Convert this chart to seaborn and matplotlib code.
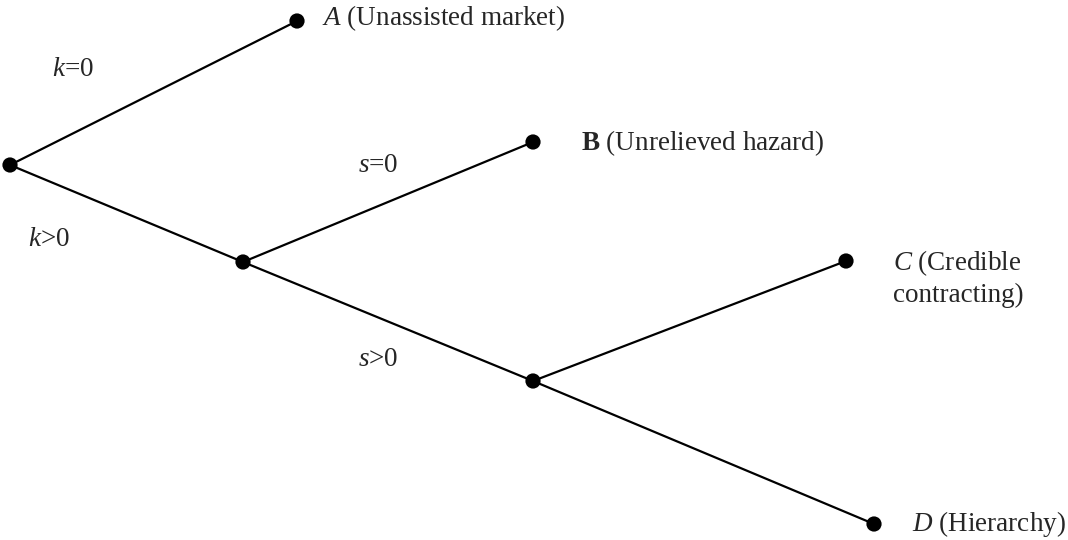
import matplotlib
matplotlib.use("Agg")
import matplotlib.pyplot as plt
import seaborn as sns
import pandas as pd

# Nodos del arbol (posicion en el diagrama)
nodos = ['raiz', 'A', 'n1', 'B', 'n2', 'C', 'D']
nodo_x = [10, 297, 243, 533, 533, 846, 874]
nodo_y = [165, 21, 262, 142, 381, 261, 524]

# Ramas
ramas = [('raiz', 'A'), ('raiz', 'n1'), ('n1', 'B'), ('n1', 'n2'), ('n2', 'C'), ('n2', 'D')]

# Etiquetas de ramas
etiquetas_rama = ['$k$=0', '$k$>0', '$s$=0', '$s$>0']
etiq_x = [52, 28, 358, 358]
etiq_y = [70, 240, 165, 360]

# Etiquetas de resultados
resultados = ['$A$ (Unassisted market)', r'$\mathbf{B}$ (Unrelieved hazard)',
              '$C$ (Credible\ncontracting)', '$D$ (Hierarchy)']
res_x = [322, 581, 893, 912]
res_y = [18, 143, 278, 524]

sns.set_style('white')
plt.rcParams['font.family'] = ['Liberation Serif', 'DejaVu Serif']
plt.rcParams['mathtext.fontset'] = 'custom'
plt.rcParams['mathtext.rm'] = 'Liberation Serif'
plt.rcParams['mathtext.it'] = 'Liberation Serif:italic'
plt.rcParams['mathtext.bf'] = 'Liberation Serif:bold'

df_nodos = pd.DataFrame({'nodo': nodos, 'x': nodo_x, 'y': nodo_y}).set_index('nodo')

fig = plt.figure(figsize=(10.68, 5.4), dpi=100)
ax = fig.add_axes([0, 0, 1, 1])

for a, b in ramas:
    ax.plot([df_nodos.loc[a, 'x'], df_nodos.loc[b, 'x']],
            [df_nodos.loc[a, 'y'], df_nodos.loc[b, 'y']],
            color='black', lw=1.6, zorder=1)

sns.scatterplot(data=df_nodos, x='x', y='y', color='black', s=120,
                edgecolor='none', ax=ax, zorder=2)

for t, x, y in zip(etiquetas_rama, etiq_x, etiq_y):
    ax.text(x, y, t, fontsize=19.5, ha='left', va='center')

for t, x, y in zip(resultados, res_x, res_y):
    ax.text(x, y, t, fontsize=19.5, ha='left', va='center', linespacing=1.25)

ax.set_xlim(0, 1068)
ax.set_ylim(540, 0)
ax.axis('off')

fig.savefig('out.png', dpi=100)
